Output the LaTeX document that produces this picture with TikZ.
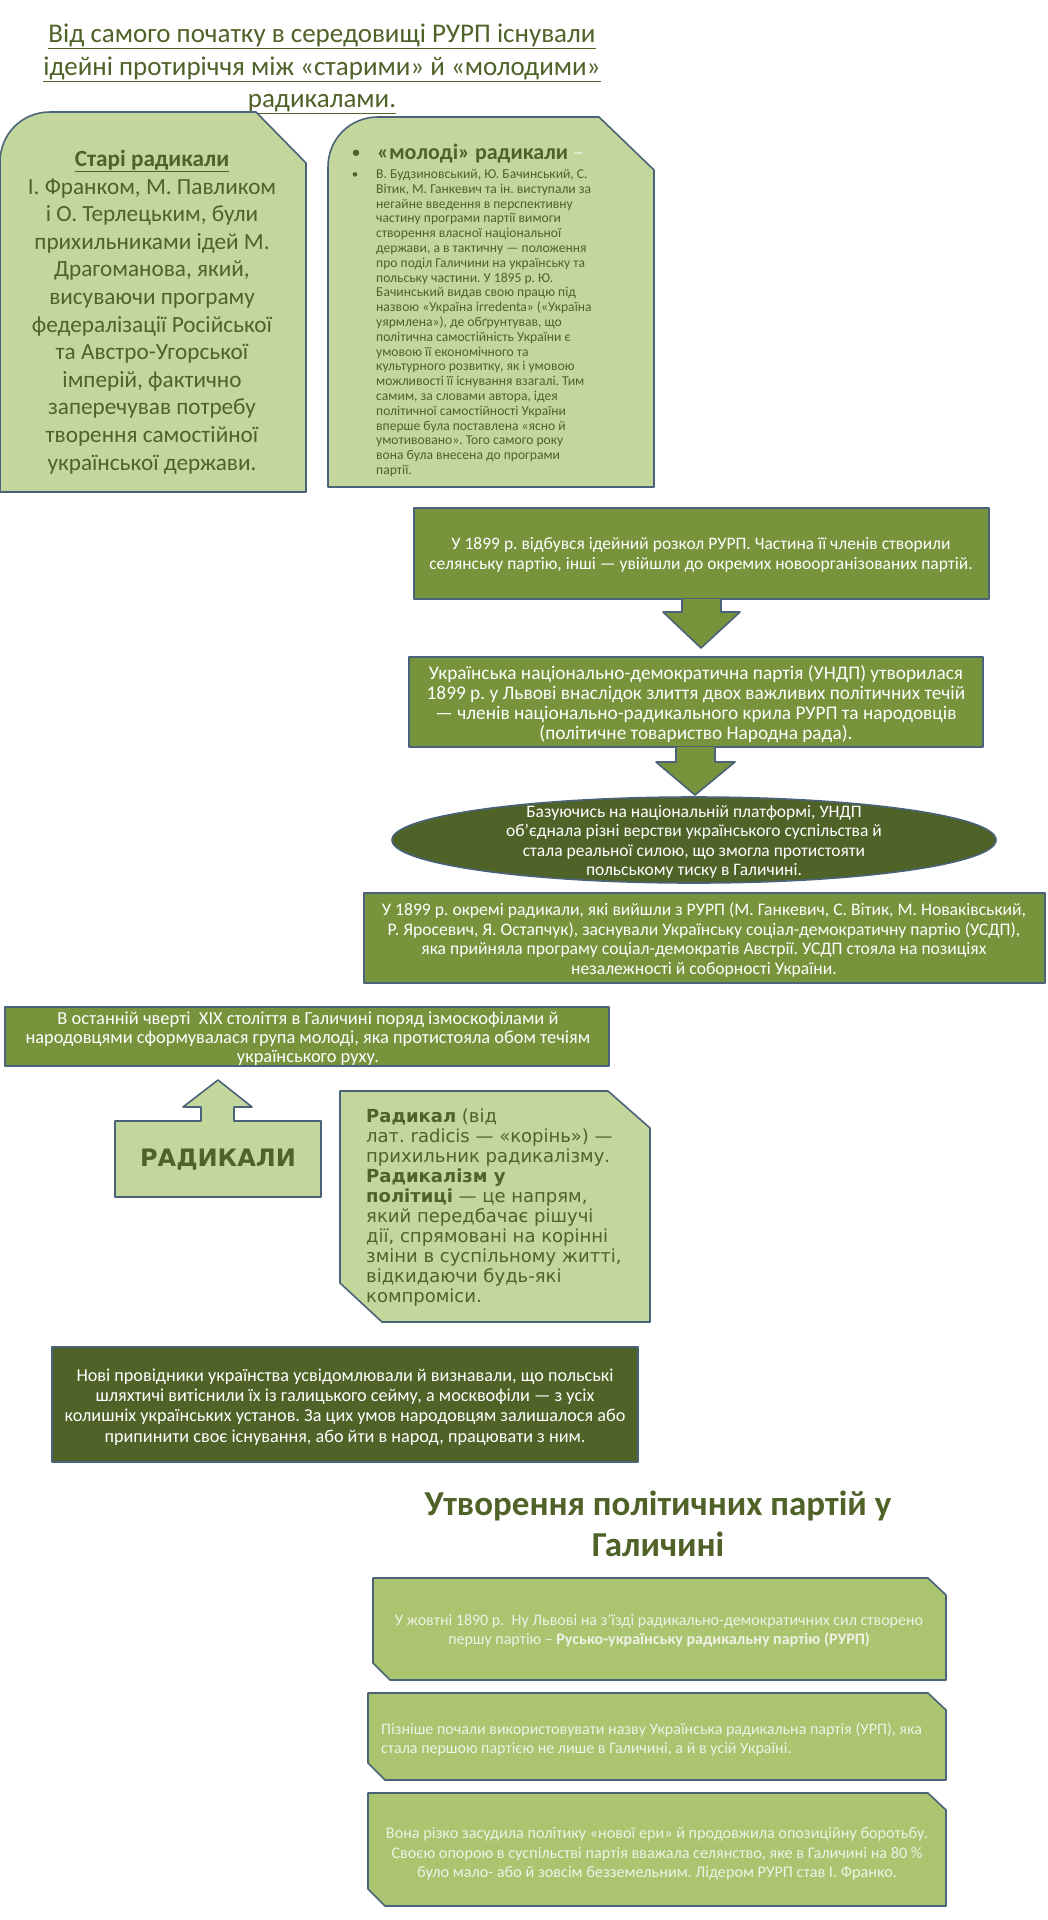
\documentclass[tikz,border=0pt]{standalone}
\usepackage{fontspec}
\setmainfont{Carlito}
\newfontfamily\dvs{DejaVu Sans}
\usetikzlibrary{shapes.geometric}
\definecolor{lightg}{HTML}{C3D69B}
\definecolor{midg}{HTML}{77933C}
\definecolor{darkg}{HTML}{4F6228}
\definecolor{paleg}{HTML}{AAC46F}
\definecolor{edge}{HTML}{4A6378}
\definecolor{txt}{HTML}{4F6228}
\definecolor{faint}{HTML}{F0F2E8}
\newcommand{\fs}[2]{\fontsize{#1}{#2}\selectfont}
\frenchspacing
\begin{document}
\begin{tikzpicture}[x=1pt,y=-1pt,
  shp/.style={draw=edge,line width=1.6pt,line join=round},
  txtnode/.style={inner sep=0pt,align=center},
]
\useasboundingbox (0,0) rectangle (1048,1920);
\fill[white] (0,0) rectangle (1048,1920);

% title
\node[txtnode,text=txt,font=\fs{27}{32.5}] (title) at (322,69)
 {\underline{Від самого початку в середовищі РУРП існували}\\
  \underline{ідейні протиріччя між «старими» й «молодими»}\\
  \underline{радикалами.}};

% box A old radicals
\path[shp,fill=lightg] (0,492) -- (0,162) .. controls (0,134) and (22,112) .. (50,112)
  -- (256,112) -- (306,163) -- (306,492) -- cycle;
\node[txtnode,text=txt,font=\fs{23.2}{27.6}] (oldr) at (152,312)
 {\textbf{\underline{Старі радикали}}\\
  І. Франком, М. Павликом\\
  і О. Терлецьким, були\\
  прихильниками ідей М.\\
  Драгоманова, який,\\
  висуваючи програму\\
  федералізації Російської\\
  та Австро-Угорської\\
  імперій, фактично\\
  заперечував потребу\\
  творення самостійної\\
  української держави.};

% box B young radicals
\path[shp,fill=lightg] (328,487) -- (328,167) .. controls (328,139) and (350,117) .. (378,117)
  -- (599,117) -- (654,170) -- (654,487) -- cycle;
\node[txtnode,text=txt,font=\fs{15}{25}\bfseries] (bul1) at (356,154) {•};
\node[txtnode,anchor=west,text=txt,font=\fs{22}{25}\bfseries] (youngh) at (377,154)
 {«молоді» радикали \textcolor{faint}{\normalfont–}};
\node[txtnode,text=txt,font=\fs{13}{14.8}] (bul2) at (355,176) {•};
\node[txtnode,anchor=west,align=left,text=txt,font=\fs{13.6}{14.8}] (youngt) at (376,323)
 {В. Будзиновський, Ю. Бачинський, С.\\
  Вітик, М. Ганкевич та ін. виступали за\\
  негайне введення в перспективну\\
  частину програми партії вимоги\\
  створення власної національної\\
  держави, а в тактичну — положення\\
  про поділ Галичини на українську та\\
  польську частини. У 1895 р. Ю.\\
  Бачинський видав свою працю під\\
  назвою «Україна irredenta» («Україна\\
  уярмлена»), де обґрунтував, що\\
  політична самостійність України є\\
  умовою її економічного та\\
  культурного розвитку, як і умовою\\
  можливості її існування взагалі. Тим\\
  самим, за словами автора, ідея\\
  політичної самостійності України\\
  вперше була поставлена «ясно й\\
  умотивовано». Того самого року\\
  вона була внесена до програми\\
  партії.};

% box C
\path[shp,fill=midg] (414,508) rectangle (989,599);
\node[txtnode,text=white,font=\fs{17.5}{20.5}] (split) at (701,555)
 {У 1899 р. відбувся ідейний розкол РУРП. Частина її членів створили\\
  селянську партію, інші — увійшли до окремих новоорганізованих партій.};
% arrow 1
\path[shp,fill=midg] (682,599) -- (682,612) -- (663,612) -- (701,648) -- (740,612)
  -- (721,612) -- (721,599);
% box D
\path[shp,fill=midg] (409,657) rectangle (983,747);
\node[txtnode,text=white,font=\fs{19.3}{19.8}] (undp) at (696,704)
 {Українська національно-демократична партія (УНДП) утворилася\\
  1899 р. у Львові внаслідок злиття двох важливих політичних течій\\
  — членів національно-радикального крила РУРП та народовців\\
  (політичне товариство Народна рада).};
% arrow 2
\path[shp,fill=midg] (676,747) -- (676,762) -- (656,762) -- (695,795) -- (735,762)
  -- (715,762) -- (715,747);
% ellipse
\node[shp,fill=darkg,ellipse,minimum width=604pt,minimum height=86pt,inner sep=0pt] (ell) at (694,840) {};
\node[txtnode,text=white,font=\fs{17.5}{19.3}] (ellt) at (694,842)
 {Базуючись на національній платформі, УНДП\\
  об’єднала різні верстви українського суспільства й\\
  стала реальної силою, що змогла протистояти\\
  польському тиску в Галичині.};
% box F
\path[shp,fill=midg] (364,893) rectangle (1045,983);
\node[txtnode,text=white,font=\fs{17.6}{19.5}] (usdp) at (704,940)
 {У 1899 р. окремі радикали, які вийшли з РУРП (М. Ганкевич, С. Вітик, М. Новаківський,\\
  Р. Яросевич, Я. Остапчук), заснували Українську соціал-демократичну партію (УСДП),\\
  яка прийняла програму соціал-демократів Австрії. УСДП стояла на позиціях\\
  незалежності й соборності України.};

% box G
\path[shp,fill=midg] (5,1007) rectangle (609,1066);
\node[txtnode,text=white,font=\fs{18.4}{19}] (lastq) at (308,1039)
 {В останній чверті\ \ XIX століття в Галичині поряд ізмоскофілами й\\
  народовцями сформувалася група молоді, яка протистояла обом течіям\\
  українського руху.};

% up arrow callout
\path[shp,fill=lightg] (115,1197) -- (115,1121) -- (201,1121) -- (201,1107) -- (183,1107)
  -- (218,1080) -- (252,1107) -- (234,1107) -- (234,1121) -- (321,1121) -- (321,1197) -- cycle;
\node[txtnode,text=txt,font=\dvs\fs{24}{30}\bfseries] (rad) at (218,1160) {РАДИКАЛИ};

% box H definition
\path[shp,fill=lightg] (340,1091) -- (608,1091) -- (650,1128) -- (650,1322) -- (382,1322)
  -- (340,1283) -- cycle;
\node[txtnode,anchor=west,align=left,text=txt,font=\dvs\fs{18}{20}] (defn) at (366,1208)
 {\textbf{Радикал} (від\\
  лат. radicis — «корінь») —\\
  прихильник радикалізму.\\
  \textbf{Радикалізм у}\\
  \textbf{політиці} — це напрям,\\
  який передбачає рішучі\\
  дії, спрямовані на корінні\\
  зміни в суспільному житті,\\
  відкидаючи будь-які\\
  компроміси.};

% box I
\path[shp,fill=darkg] (52,1347) rectangle (638,1462);
\node[txtnode,text=white,font=\fs{18.2}{20.2}] (nov) at (345,1407)
 {Нові провідники українства усвідомлювали й визнавали, що польські\\
  шляхтичі витіснили їх із галицького сейму, а москвофіли — з усіх\\
  колишніх українських установ. За цих умов народовцям залишалося або\\
  припинити своє існування, або йти в народ, працювати з ним.};

% title 2
\node[txtnode,text=txt,font=\fs{35}{41}\bfseries] (title2) at (658,1524)
 {Утворення політичних партій у\\Галичині};

% box J
\path[shp,fill=paleg] (373,1578) -- (928,1578) -- (946,1595) -- (946,1680) -- (390,1680)
  -- (373,1663) -- cycle;
\node[txtnode,text=faint,font=\fs{16}{19}] (rurp) at (659,1631)
 {У жовтні 1890 р.\ \ Ну Львові на з’їзді радикально-демократичних сил створено\\
  першу партію – \textbf{Русько-українську радикальну партію (РУРП)}};
% box K
\path[shp,fill=paleg] (368,1693) -- (928,1693) -- (946,1710) -- (946,1780) -- (385,1780)
  -- (368,1763) -- cycle;
\node[txtnode,anchor=west,align=left,text=faint,font=\fs{16}{19}] (urp) at (381,1739)
 {Пізніше почали використовувати назву Українська радикальна партія (УРП), яка\\
  стала першою партією не лише в Галичині, а й в усій Україні.};
% box L
\path[shp,fill=paleg] (368,1793) -- (928,1793) -- (946,1810) -- (946,1906) -- (385,1906)
  -- (368,1889) -- cycle;
\node[txtnode,text=faint,font=\fs{16.2}{19.5}] (era) at (657,1854)
 {Вона різко засудила політику «нової ери» й продовжила опозиційну боротьбу.\\
  Своєю опорою в суспільстві партія вважала селянство, яке в Галичині на 80 \%\\
  було мало- або й зовсім безземельним. Лідером РУРП став І. Франко.};
\end{tikzpicture}
\end{document}
